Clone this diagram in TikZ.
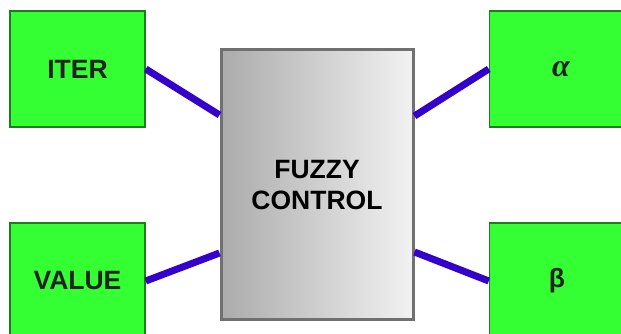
\documentclass[tikz,border=0pt]{standalone}
\usepackage{fontspec}
\setmainfont{Liberation Sans}
\newfontfamily\serifb{Liberation Serif}
\definecolor{boxgreen}{HTML}{33FF33}
\definecolor{boxgreenline}{HTML}{1E7B1E}
\definecolor{linkblue}{HTML}{3300CC}
\definecolor{fcleft}{HTML}{ABABAB}
\definecolor{fcright}{HTML}{F2F2F2}
\definecolor{fcline}{HTML}{707070}
\definecolor{txt}{HTML}{222222}
\tikzset{
  io/.style={draw=boxgreenline, line width=1.5pt, fill=boxgreen, minimum width=135pt, minimum height=116pt, inner sep=0pt, text=txt, font=\fontsize{26.5}{29}\selectfont\bfseries},
  ctrl/.style={draw=fcline, line width=3pt, left color=fcleft, right color=fcright, minimum width=192pt, minimum height=270pt, inner sep=0pt, align=center, text=black, font=\fontsize{26.5}{31}\selectfont\bfseries},
  link/.style={draw=linkblue, line width=7pt}
}
\begin{document}
\begin{tikzpicture}[x=1pt,y=1pt]
\useasboundingbox (0,0) rectangle (621,334);
\fill[white] (0,0) rectangle (621,334);
\node[ctrl] (fc) at (317,149) {FUZZY\\CONTROL};
\node[io] (iter) at (77.5,265) {ITER};
\node[io] (alpha) at (557,265) {\hspace*{8pt}\serifb\fontsize{32}{34}\selectfont\bfseries\itshape α};
\node[io] (value) at (77.5,53) {VALUE};
\node[io] (beta) at (557,53) {β};
\draw[link] (iter.east) -- ([yshift=70pt]fc.west);
\draw[link] ([yshift=69pt]fc.east) -- (alpha.west);
\draw[link] (value.east) -- ([yshift=-68pt]fc.west);
\draw[link] ([yshift=-67pt]fc.east) -- (beta.west);
\end{tikzpicture}
\end{document}
